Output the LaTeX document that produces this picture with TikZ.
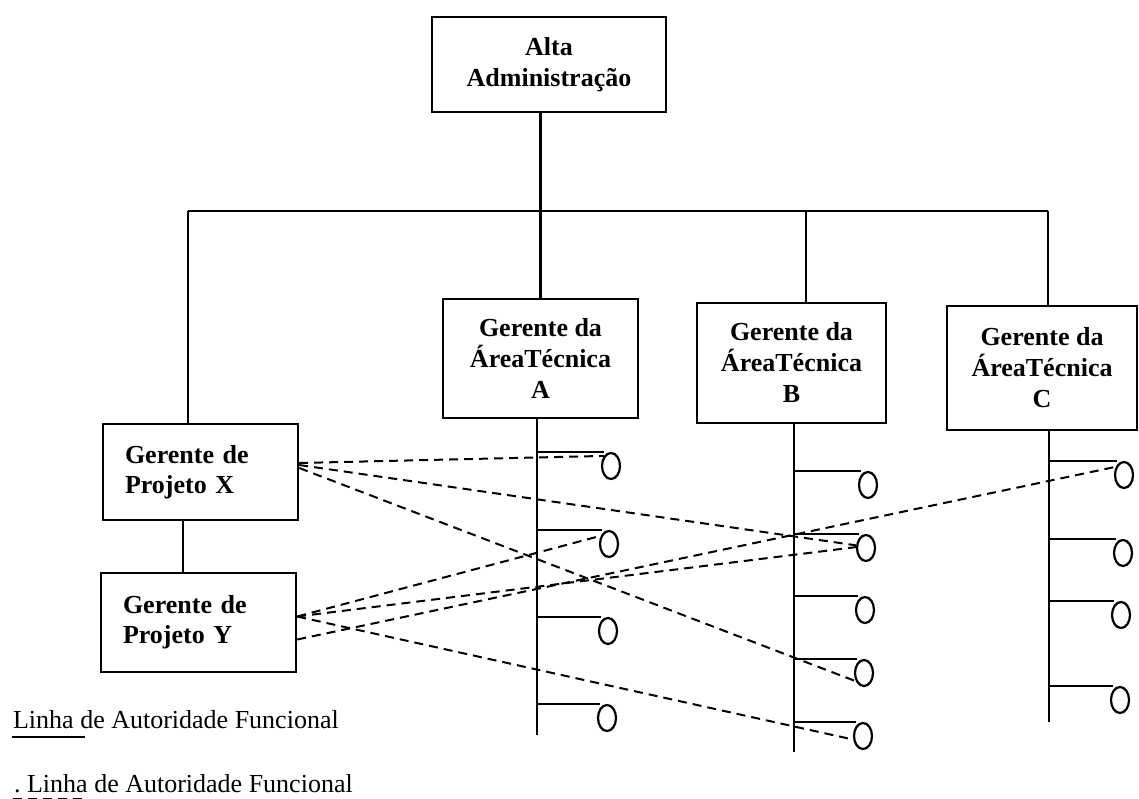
\documentclass[tikz,border=0pt]{standalone}
\usepackage{fontspec}
\setmainfont{Liberation Serif}
\usetikzlibrary{shapes.geometric,calc}

\begin{document}
\begin{tikzpicture}[x=1pt,y=-1pt,line width=2.2pt,
  box/.style={draw, line width=2.4pt, inner sep=0pt, align=center,
    font=\fontsize{26}{31}\selectfont\bfseries},
  pmbox/.style={draw, line width=2.4pt, inner ysep=0pt, inner xsep=22pt,
    text width=151pt, align=left, font=\fontsize{26}{30}\selectfont\bfseries},
  loop/.style={draw, ellipse, minimum width=18pt, minimum height=26pt,
    inner sep=0pt, line width=2.2pt},
  link/.style={dash pattern=on 9pt off 6pt, line width=2pt},
  legend/.style={anchor=base west, inner sep=0pt,
    font=\fontsize{26}{30}\selectfont}]

\useasboundingbox (0,0) rectangle (1139,799);

% organisation boxes
\node[box, minimum width=234pt, minimum height=95pt] (top) at (549,64.5) {Alta\\Administração};
\node[box, minimum width=195pt, minimum height=119pt] (A) at (540.5,358.5) {Gerente da\\ÁreaTécnica\\A};
\node[box, minimum width=189pt, minimum height=120pt] (B) at (791.5,363) {Gerente da\\ÁreaTécnica\\B};
\node[box, minimum width=190pt, minimum height=124pt] (C) at (1042,368) {Gerente da\\ÁreaTécnica\\C};
\node[pmbox, minimum height=96pt] (X) at (200.5,472) {Gerente de\\Projeto X};
\node[pmbox, minimum height=99pt] (Y) at (198.5,622.5) {Gerente de\\Projeto Y};

% hierarchy lines
\coordinate (busL) at (188,211);
\coordinate (busR) at (1048,211);
\coordinate (busB) at (806,211);
\draw (A.north |- top.south) -- (A.north);
\draw (busL) -- (busR);
\draw (busL) -- (busL |- X.north);
\draw (busB) -- (busB |- B.north);
\draw (busR) -- (busR |- C.north);
\draw (183,0 |- X.south) -- (183,0 |- Y.north);

% functional columns
\coordinate (ca) at (537,735);
\coordinate (cb) at (794,752);
\coordinate (cc) at (1049,722);
\draw (ca |- A.south) -- (ca);
\draw (cb |- B.south) -- (cb);
\draw (cc |- C.south) -- (cc);

% staff members of each area
\foreach \n/\px/\py in {a1/611/466, a2/609/544, a3/608/631, a4/607/718,
                        b1/868/485, b2/866/548, b3/865/610, b4/864/673, b5/863/736,
                        c1/1124/475, c2/1123/553, c3/1121/615, c4/1120/700}
  \node[loop] (\n) at (\px,\py) {};
\foreach \n in {a1,a2,a3,a4} \draw (ca |- \n.north) -- ([xshift=-7pt]\n.north);
\foreach \n in {b1,b2,b3,b4,b5} \draw (cb |- \n.north) -- ([xshift=-7pt]\n.north);
\foreach \n in {c1,c2,c3,c4} \draw (cc |- \n.north) -- ([xshift=-7pt]\n.north);

% project authority links
\coordinate (x1) at ([yshift=9pt]X.east);
\coordinate (x2) at ([yshift=7pt]X.east);
\coordinate (x3) at ([yshift=4pt]X.east);
\coordinate (y1) at ([yshift=6pt]Y.east);
\coordinate (y2) at ([yshift=-17pt]Y.east);
\draw[link] (x1) -- (a1.125);
\draw[link] (x2) -- (b2.165);
\draw[link] (x3) -- (b4.225);
\draw[link] (y1) -- (a2.135);
\draw[link] (y1) -- (b2.175);
\draw[link] (y2) -- (c1.135);
\draw[link] (y1) -- (b5.200);

% legend
\node[legend] (lg1) at (12,728) {Linha de Autoridade Funcional};
\draw ([yshift=-9pt]lg1.base west) -- ++(73,0);
\node[legend] (lg2) at (13,792) {.\ Linha de Autoridade Funcional};
\draw[link] ([yshift=-7pt]lg2.base west) -- ++(72,0);
\end{tikzpicture}
\end{document}
